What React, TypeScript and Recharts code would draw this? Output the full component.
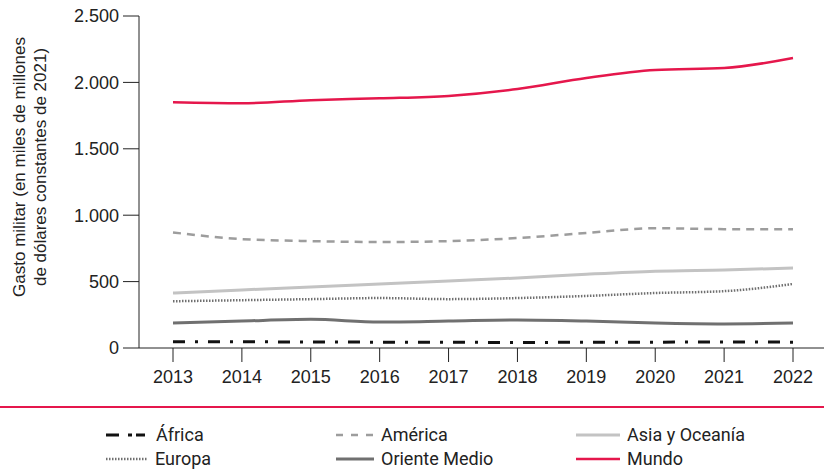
import { LineChart, Line, XAxis, YAxis } from 'recharts';

const years = ['2013', '2014', '2015', '2016', '2017', '2018', '2019', '2020', '2021', '2022'];
const africa = [48, 47, 45, 44, 43, 42, 43, 44, 45, 44];
const america = [870, 820, 805, 798, 805, 828, 866, 902, 895, 895];
const asia = [414, 437, 459, 482, 505, 527, 555, 578, 588, 602];
const europa = [352, 360, 368, 376, 368, 376, 392, 414, 428, 482];
const orienteMedio = [188, 203, 216, 196, 203, 211, 203, 188, 181, 188];
const mundo = [1850, 1843, 1866, 1880, 1898, 1950, 2033, 2093, 2108, 2184];
const yTicks = [0, 500, 1000, 1500, 2000, 2500];

const series = [
  { key: 'africa', name: 'África', values: africa, color: '#111111', width: 3, dash: '12 10 3 10', legendDash: '13 9 4 4 9 40' },
  { key: 'america', name: 'América', values: america, color: '#9d9d9d', width: 2.5, dash: '8 6', legendDash: '7 8' },
  { key: 'asia', name: 'Asia y Oceanía', values: asia, color: '#c3c3c3', width: 3, dash: undefined, legendDash: undefined },
  { key: 'europa', name: 'Europa', values: europa, color: '#6f6f6f', width: 2.5, dash: '1.5 1.5', legendDash: '1.5 1.5' },
  { key: 'orienteMedio', name: 'Oriente Medio', values: orienteMedio, color: '#707070', width: 3, dash: undefined, legendDash: undefined },
  { key: 'mundo', name: 'Mundo', values: mundo, color: '#e5174c', width: 2.5, dash: undefined, legendDash: undefined },
];

const data = years.map((year, i) => {
  const row: Record<string, string | number> = { year };
  series.forEach((s) => {
    row[s.key] = s.values[i];
  });
  return row;
});

const fmtThousands = (v: number) =>
  v >= 1000 ? `${Math.floor(v / 1000)}.${String(v % 1000).padStart(3, '0')}` : String(v);

const font = "'Liberation Sans', Arial, sans-serif";
const legendCols = [105, 335, 575];
const swatchWidths = [[45, 40, 46], [44, 40, 46]];

export default function App() {
  return (
    <div style={{ position: 'absolute', left: 0, top: 0, width: 824, height: 471, background: '#fff', fontFamily: font }}>
      <LineChart width={824} height={400} data={data} margin={{ top: 16, right: 0, bottom: 0, left: 0 }}>
        <XAxis
          dataKey="year"
          padding={{ left: 34, right: 31 }}
          height={52}
          tickSize={14}
          tickMargin={8}
          tickLine={{ stroke: '#222' }}
          axisLine={{ stroke: '#222' }}
          tick={{ fill: '#222', fontSize: 18, fontFamily: font }}
          interval={0}
        />
        <YAxis
          domain={[0, 2500]}
          ticks={yTicks}
          width={139}
          tickSize={16}
          tickMargin={4}
          tickLine={{ stroke: '#222' }}
          axisLine={{ stroke: '#222' }}
          tick={{ fill: '#222', fontSize: 18, fontFamily: font }}
          tickFormatter={fmtThousands}
          interval={0}
        />
        {series.map((s) => (
          <Line
            key={s.key}
            dataKey={s.key}
            name={s.name}
            type="monotone"
            stroke={s.color}
            strokeWidth={s.width}
            strokeDasharray={s.dash}
            dot={false}
            isAnimationActive={false}
          />
        ))}
        <text
          transform="translate(25,167) rotate(-90)"
          textAnchor="middle"
          fontSize={17}
          fill="#222"
          fontFamily={font}
        >
          <tspan x={0} dy={0}>Gasto militar (en miles de millones</tspan>
          <tspan x={0} dy={21}>de dólares constantes de 2021)</tspan>
        </text>
      </LineChart>
      <div style={{ position: 'absolute', left: 0, top: 406, width: 824, height: 2, background: '#e5174c' }} />
      {series.map((s, i) => {
        const col = i % 3;
        const row = Math.floor(i / 3);
        const w = swatchWidths[row][col];
        return (
          <div
            key={s.key}
            style={{
              position: 'absolute',
              left: legendCols[col],
              top: 423 + row * 24,
              display: 'flex',
              alignItems: 'center',
              fontFamily: 'Roboto, sans-serif',
              fontSize: 18,
              color: '#222',
              lineHeight: '24px',
            }}
          >
            <svg width={w} height={24} style={{ marginRight: 6 }}>
              <line x1={1} y1={12} x2={w - 1} y2={12} stroke={s.color} strokeWidth={s.width} strokeDasharray={s.legendDash} />
            </svg>
            <span>{s.name}</span>
          </div>
        );
      })}
    </div>
  );
}
